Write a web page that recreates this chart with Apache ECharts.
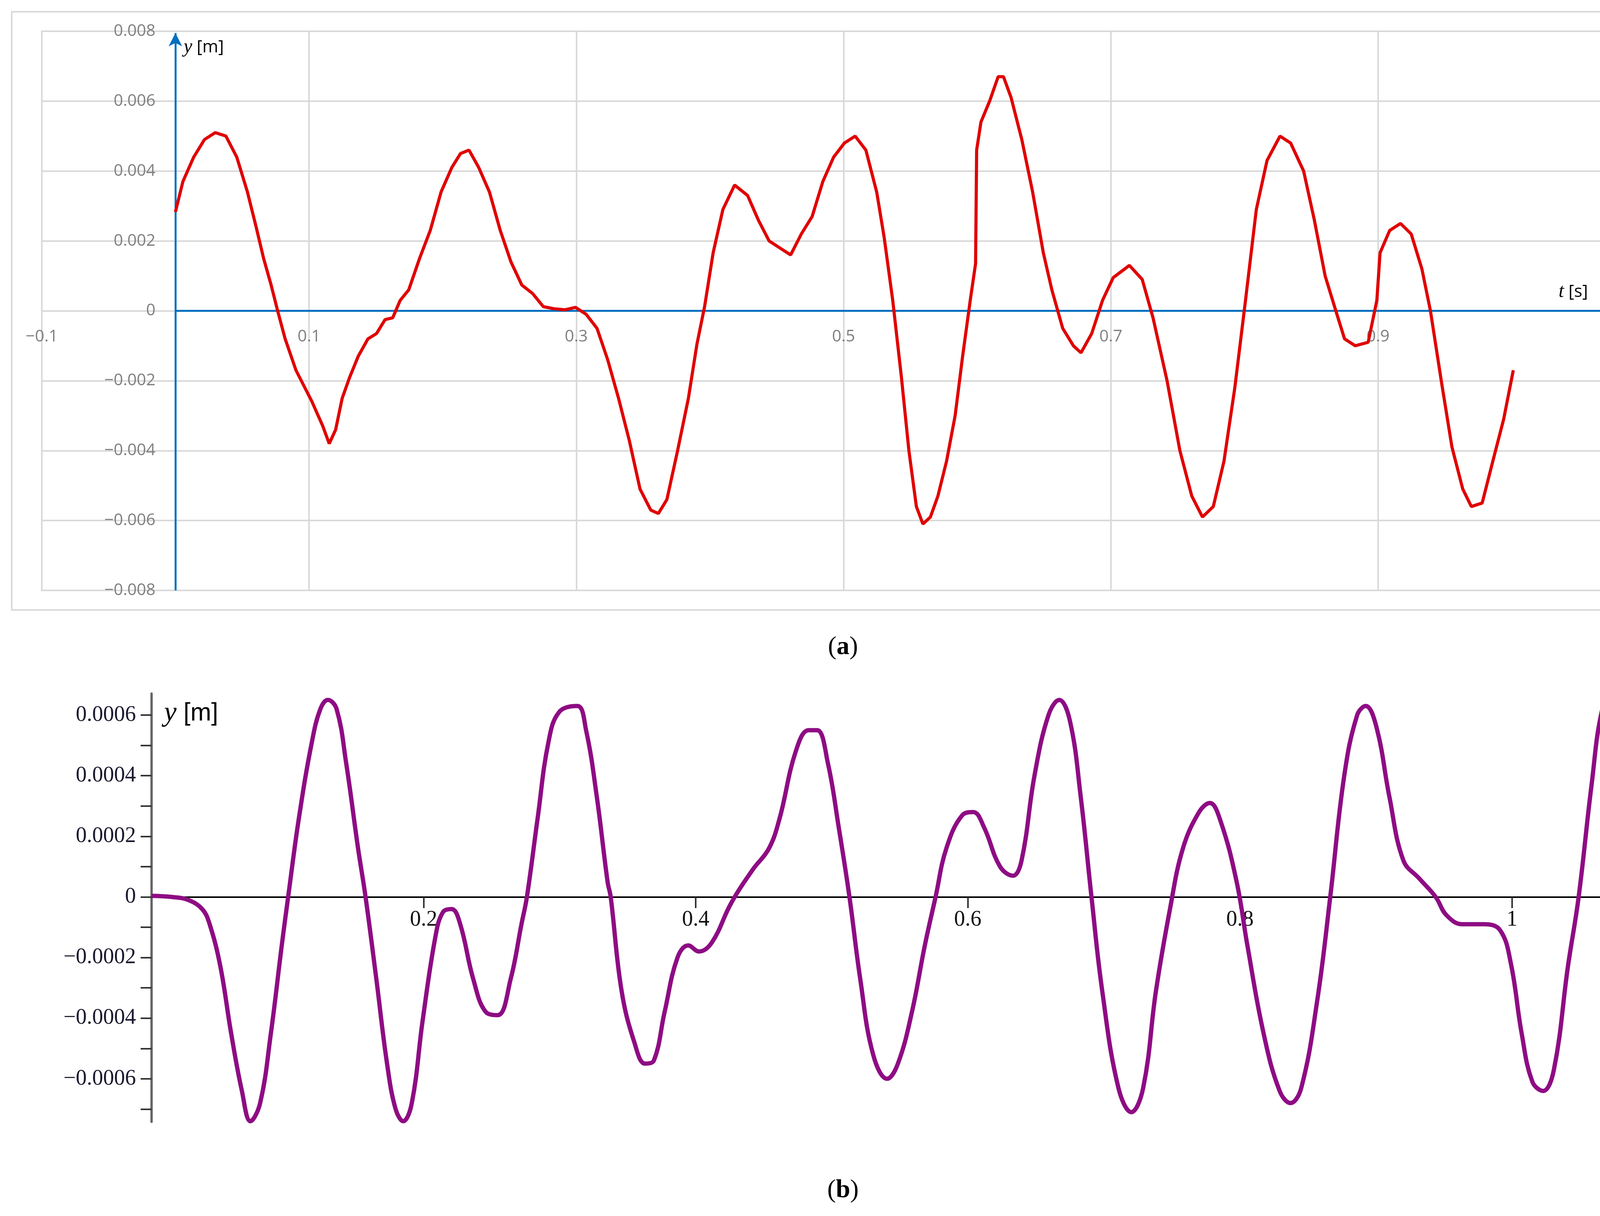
<!DOCTYPE html>
<html><head><meta charset="utf-8">
<script src="https://cdn.jsdelivr.net/npm/echarts@6/dist/echarts.min.js"></script>
<style>html,body{margin:0;padding:0;background:#fff;overflow:hidden}#c{width:4316px;height:3112px}</style>
</head><body><div id="c"></div>
<script>
// Chart (a): measured displacement
const tA = [0,0.0056,0.0137,0.0217,0.0298,0.0378,0.0459,0.0539,0.0604,0.066,0.0716,0.0765,0.0821,0.0902,0.1022,0.1103,0.1151,0.1199,0.1248,0.1304,0.1368,0.1441,0.1505,0.1569,0.1626,0.1682,0.1746,0.1827,0.1907,0.1988,0.2068,0.2133,0.2197,0.227,0.235,0.2431,0.2511,0.2592,0.2672,0.2753,0.2833,0.2914,0.2994,0.3074,0.3155,0.3235,0.3316,0.3396,0.3477,0.3557,0.3614,0.3678,0.3758,0.3839,0.3903,0.396,0.4024,0.4097,0.4185,0.4282,0.4362,0.4443,0.4523,0.4604,0.4684,0.4765,0.4845,0.4926,0.5006,0.5087,0.5167,0.5248,0.5304,0.5368,0.5433,0.5489,0.5545,0.5594,0.565,0.5706,0.5771,0.5835,0.5891,0.5948,0.5988,0.5996,0.6028,0.6093,0.6157,0.6197,0.6254,0.6334,0.6415,0.6495,0.6559,0.664,0.672,0.6777,0.6857,0.6938,0.7018,0.7139,0.7235,0.7316,0.7421,0.7517,0.7606,0.7686,0.7767,0.7847,0.7928,0.8008,0.8089,0.8169,0.8266,0.8346,0.8443,0.8523,0.8604,0.8684,0.8749,0.8829,0.8926,0.8991,0.9015,0.9087,0.9168,0.9248,0.9328,0.9392,0.9473,0.9553,0.9634,0.9698,0.9779,0.9859,0.994,1.0012];
const yA = [0.00283,0.0037,0.0044,0.0049,0.0051,0.005,0.0044,0.0034,0.0024,0.0015,0.00074,0,-0.0008,-0.0017,-0.0026,-0.0033,-0.0038,-0.0034,-0.0025,-0.0019,-0.0013,-0.0008,-0.00065,-0.00025,-0.0002,0.0003,0.0006,0.0015,0.0023,0.0034,0.0041,0.0045,0.0046,0.0041,0.0034,0.0023,0.0014,0.00074,0.0005,0.00012,0.00006,0.00003,0.0001,-0.0001,-0.0005,-0.0014,-0.0025,-0.0037,-0.0051,-0.0057,-0.0058,-0.0054,-0.004,-0.0025,-0.00095,0.00012,0.00166,0.0029,0.0036,0.0033,0.0026,0.002,0.0018,0.0016,0.0022,0.0027,0.0037,0.0044,0.0048,0.005,0.0046,0.0034,0.0021,0.0003,-0.0019,-0.004,-0.0056,-0.0061,-0.0059,-0.0053,-0.0043,-0.003,-0.0013,0.0003,0.00135,0.0046,0.0054,0.006,0.0067,0.0067,0.0061,0.0049,0.0034,0.00166,0.0006,-0.0005,-0.001,-0.0012,-0.00065,0.0003,0.00095,0.0013,0.0009,-0.0002,-0.002,-0.004,-0.0053,-0.0059,-0.0056,-0.0043,-0.0022,0.0003,0.0029,0.0043,0.005,0.0048,0.004,0.0026,0.001,0,-0.0008,-0.001,-0.0009,0.0003,0.00166,0.0023,0.0025,0.0022,0.0012,0,-0.002,-0.0039,-0.0051,-0.0056,-0.0055,-0.0043,-0.0031,-0.0017];
// Chart (b): computed displacement
const tB = [0,0.015,0.0269,0.0372,0.0427,0.0506,0.0585,0.0664,0.0727,0.0798,0.0877,0.0957,0.1004,0.1083,0.1178,0.1241,0.1296,0.136,0.1431,0.1518,0.1573,0.1652,0.1731,0.1794,0.185,0.1913,0.1992,0.2087,0.2142,0.2206,0.2269,0.2364,0.2458,0.2545,0.264,0.2719,0.2759,0.2838,0.2917,0.2996,0.313,0.3194,0.3273,0.3352,0.3375,0.3455,0.3549,0.3628,0.3692,0.3771,0.3866,0.3945,0.4024,0.4119,0.4261,0.4419,0.4538,0.4617,0.4735,0.483,0.4893,0.4972,0.5051,0.513,0.5209,0.5304,0.5407,0.5486,0.5589,0.5684,0.5763,0.5842,0.596,0.604,0.6119,0.6237,0.6332,0.6395,0.649,0.6593,0.6672,0.6751,0.683,0.6909,0.6988,0.7107,0.7202,0.7289,0.7383,0.7486,0.7581,0.77,0.7779,0.7858,0.7976,0.8055,0.8174,0.8292,0.8372,0.8451,0.8569,0.8664,0.8767,0.8862,0.8925,0.9004,0.9099,0.9202,0.932,0.9439,0.9518,0.9636,0.9794,0.9913,0.9992,1.0071,1.015,1.0229,1.0308,1.0411,1.049,1.0585,1.0664,1.0743,1.0822,1.0901,1.098];
const yB = [0.0000036,0,-0.00001,-0.00004,-0.00009,-0.00023,-0.00045,-0.00064,-0.00074,-0.00068,-0.00045,-0.00016,0,0.00026,0.00051,0.00062,0.00065,0.00062,0.00044,0.00016,0,-0.00027,-0.00055,-0.0007,-0.00074,-0.00068,-0.00041,-0.00013,-0.00005,-0.00004,-0.00009,-0.00027,-0.00038,-0.00039,-0.00027,-0.00009,0,0.00026,0.00051,0.00061,0.00063,0.00055,0.00033,0.00005,0,-0.00031,-0.00048,-0.00055,-0.00054,-0.00038,-0.0002,-0.00016,-0.00018,-0.00015,-0.00002,0.00009,0.00016,0.00026,0.00048,0.00055,0.00055,0.00044,0.00023,0,-0.00027,-0.00052,-0.0006,-0.00055,-0.00038,-0.00016,0,0.00016,0.00027,0.00028,0.00023,0.0001,0.00007,0.00012,0.0004,0.0006,0.00065,0.00058,0.00033,0,-0.00031,-0.00063,-0.00071,-0.00063,-0.00031,-0.00004,0.00016,0.00028,0.00031,0.00025,0.00005,-0.00016,-0.00045,-0.00064,-0.00068,-0.00063,-0.00034,0,0.0004,0.0006,0.00063,0.00056,0.00033,0.00012,0.00006,0,-0.00006,-0.00009,-0.00009,-0.00011,-0.00022,-0.00045,-0.00061,-0.00064,-0.00057,-0.00023,0,0.00037,0.00062,0.00068,0.00064,0.00048,0.00023];
const yTicksB = [-0.0006,-0.0004,-0.0002,0,0.0002,0.0004,0.0006];
const yMinorB = [-0.0007,-0.0006,-0.0005,-0.0004,-0.0003,-0.0002,-0.0001,0,0.0001,0.0002,0.0003,0.0004,0.0005,0.0006];
const xTicksB = [0.2,0.4,0.6,0.8,1];

const minus = v => v < 0 ? '\u2212' + String(Math.abs(v)) : String(v);
const chart = echarts.init(document.getElementById('c'));
const gray = '#7f7f7f';
const labelRich = (fs1, fs2, fam) => ({i:{fontFamily:'Liberation Serif',fontStyle:'italic',fontSize:fs1,fill:'#000'},n:{fontFamily:fam,fontSize:fs2,fill:'#000'}});
chart.setOption({
  animation:false,
  graphic:[
    {type:'rect',shape:{x:30,y:30,width:4253,height:1531},style:{fill:'none',stroke:'#d9d9d9',lineWidth:4}},
    {type:'text',left:470,top:96,style:{rich:labelRich(50,44,'Open Sans'),text:'{i|y}{n|\u00a0[m]}'}},
    {type:'text',left:3990,top:722,style:{rich:labelRich(50,44,'Open Sans'),text:'{i|t}{n|\u00a0[s]}'}},
    {type:'text',left:420,top:1790,style:{rich:labelRich(72,64,'Liberation Sans'),text:'{i|y}{n|\u00a0[m]}'}},
    {type:'text',left:4100,top:2196,style:{rich:labelRich(72,64,'Liberation Sans'),text:'{i|t}{n|\u00a0[s]}'}},
    {type:'text',x:2158,y:1657,style:{rich:{n:{fontFamily:'Liberation Serif',fontSize:66,fill:'#000'},b:{fontFamily:'Liberation Serif',fontSize:66,fontWeight:'bold',fill:'#000'}},text:'{n|(}{b|a}{n|)}',align:'center',verticalAlign:'middle'}},
    {type:'text',x:2158,y:3047,style:{rich:{n:{fontFamily:'Liberation Serif',fontSize:66,fill:'#000'},b:{fontFamily:'Liberation Serif',fontSize:66,fontWeight:'bold',fill:'#000'}},text:'{n|(}{b|b}{n|)}',align:'center',verticalAlign:'middle'}}
  ],
  grid:[
    {left:107,right:104,top:80,height:1431,show:true,borderColor:'#d9d9d9',borderWidth:4},
    {left:388,right:104,top:1775,bottom:241}
  ],
  xAxis:[
    {gridIndex:0,type:'value',min:-0.1,max:1.1,interval:0.2,offset:-716,
     axisLine:{show:false},axisTick:{show:false},
     splitLine:{show:true,lineStyle:{color:'#d9d9d9',width:4}},
     axisLabel:{margin:46,fontSize:42,fontFamily:'Open Sans',color:gray,formatter:v=>minus(+v.toFixed(1))}},
    {gridIndex:1,type:'value',min:0,max:1.098,offset:-575,
     axisLine:{onZero:false,lineStyle:{color:'#000',width:4}},
     axisTick:{show:true,customValues:xTicksB,length:28,lineStyle:{color:'#333',width:4}},
     splitLine:{show:false},
     axisLabel:{customValues:xTicksB,margin:30,fontSize:56,fontFamily:'Liberation Serif',color:'#111',formatter:v=>String(+v.toFixed(1))}}
  ],
  yAxis:[
    {gridIndex:0,type:'value',min:-0.008,max:0.008,interval:0.002,offset:-341,
     axisLine:{show:false},axisTick:{show:false},
     splitLine:{show:true,lineStyle:{color:'#d9d9d9',width:4}},
     axisLabel:{margin:50,fontSize:42,fontFamily:'Open Sans',color:gray,formatter:v=>minus(+v.toFixed(3))}},
    {gridIndex:1,type:'value',min:-0.000742,max:0.000671,
     axisLine:{show:true,onZero:false,lineStyle:{color:'#666',width:6}},
     axisTick:{show:true,customValues:yMinorB,length:28,lineStyle:{color:'#333',width:4}},
     splitLine:{show:false},
     axisLabel:{customValues:yTicksB,margin:40,fontSize:56,fontFamily:'Liberation Serif',color:'#1a1a2e',
       formatter:v=>{v=+v.toFixed(4);return v<0?'\u2212'+String(Math.abs(v)):String(v);}}}
  ],
  series:[
    {type:'line',xAxisIndex:0,yAxisIndex:0,data:tA.map((t,i)=>[t,yA[i]]),showSymbol:false,
     lineStyle:{color:'#e00000',width:8},z:5},
    {type:'line',xAxisIndex:0,yAxisIndex:0,data:[],showSymbol:false,z:4,
     markLine:{silent:true,symbol:['none','arrow'],symbolSize:[26,34],label:{show:false},
       lineStyle:{color:'#0070c0',width:5,type:'solid'},
       data:[[{coord:[0,-0.008]},{coord:[0,0.00795]}],[{coord:[0,0]},{coord:[1.08,0]}]]}},
    {type:'line',xAxisIndex:1,yAxisIndex:1,data:tB.map((t,i)=>[t,yB[i]]),showSymbol:false,smooth:0.4,
     lineStyle:{color:'#8e0c83',width:11},z:5}
  ]
});
</script></body></html>
